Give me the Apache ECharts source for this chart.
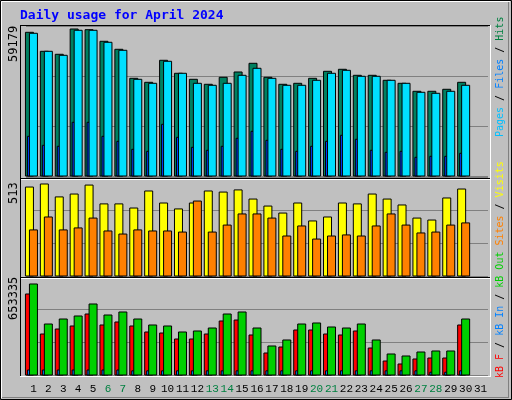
<!DOCTYPE html>
<html><head><meta charset="utf-8">
<script src="https://cdn.jsdelivr.net/npm/echarts@6/dist/echarts.min.js"></script>
<style>html,body{margin:0;padding:0;background:#C0C0C0}#c{width:512px;height:400px}</style>
</head><body><div id="c"></div>
<script>
const days = ['1','2','3','4','5','6','7','8','9','10','11','12','13','14','15','16','17','18','19','20','21','22','23','24','25','26','27','28','29','30','31'];
const weekend = ['6','7','13','14','20','21','27','28'];
const hits  = [57850,50200,49000,59179,58900,54230,51010,39330,37720,46580,41350,38930,36920,39740,41870,45370,39740,36920,37320,39330,42150,42960,40540,40540,38530,37320,34100,34100,34910,37720,0];
const files = [57450,50200,48590,58660,58660,53830,50610,38930,37320,46180,41350,37320,36520,37320,40540,43360,39330,36520,36520,38530,41350,42550,40140,40140,38530,37320,33700,33300,34100,36520,0];
const pages = [15980,12360,11960,21620,21620,15980,13970,10750,9940,20810,15580,11550,10350,11960,15180,18000,14370,10750,9940,11960,13970,16390,14780,10350,9540,9940,7530,7930,7930,9140,0];
const visits = [496,513,441,457,507,402,402,379,474,407,374,407,474,468,480,429,390,351,407,307,329,407,402,457,429,396,323,312,435,485,0];
const sites  = [257,329,257,268,323,251,234,257,251,251,245,418,245,284,346,346,323,223,279,206,223,229,223,279,346,284,240,245,284,296,0];
const kbF   = [581500,294300,330200,351800,437900,359000,380500,351800,308700,301500,258400,258400,294300,387700,394800,287200,157900,201000,323100,323100,294300,287200,315900,193800,100500,79000,114900,122000,122000,359000,0];
const kbIn  = [36000,36000,36000,36000,36000,36000,36000,30000,30000,30000,30000,30000,30000,30000,30000,30000,30000,30000,30000,30000,30000,30000,30000,30000,30000,30000,30000,20000,20000,30000,0];
const kbOut = [653335,366100,402000,423600,509700,430700,452300,402000,359000,351800,308700,315900,337400,437900,452300,337400,208200,251300,366100,373300,344600,337400,366100,251300,150800,136400,165100,172300,172300,402000,0];
const maxLabels = ['59179','513','653335'];

function mk(a,b,c){return days.map((d,i)=>[i,a[i],b[i],c[i]]);}
function bars(spec){
  return function(params, api){
    const x = api.value(0);
    const base = api.coord([x,0]);
    const children = [];
    spec.forEach(s=>{
      const v = api.value(s[0]);
      if(!v) return;
      const top = api.coord([x,v]);
      children.push({type:'rect',shape:{x:base[0]+s[1],y:top[1],width:s[2],height:base[1]-top[1]},
        style:{fill:s[3],stroke:'#000',lineWidth:1}});
    });
    return {type:'group',children};
  };
}
const chart = echarts.init(document.getElementById('c'));
const grids = [{left:26,right:24,top:26,height:150},{left:26,right:24,top:177,height:99},{left:26,right:24,top:276,height:99}];
const ymax = [60387,552,710700];
const xAxis = grids.map((g,i)=>({type:'category',gridIndex:i,data:days,axisLine:{show:false},axisTick:{show:false},
  axisLabel:{show:i===2,interval:0,margin:9,fontFamily:'Liberation Mono',fontSize:11,
    color:(v)=>weekend.includes(v)?'#008040':'#000'}}));
const yAxis = grids.map((g,i)=>({type:'value',gridIndex:i,min:0,max:ymax[i],interval:ymax[i]/3,axisLabel:{show:false},
  axisLine:{show:false},axisTick:{show:false},splitLine:{show:true,lineStyle:{color:'#808080',width:1}}}));
const series = [
  {type:'custom',xAxisIndex:0,yAxisIndex:0,data:mk(hits,files,pages),encode:{x:0,y:[1,2,3]},
   renderItem:bars([[1,-8,8,'#008060'],[3,-6,2.5,'#0040FF'],[2,-4,8,'#00E0FF']])},
  {type:'custom',xAxisIndex:1,yAxisIndex:1,data:mk(visits,sites,sites),encode:{x:0,y:[1,2]},
   renderItem:bars([[1,-8,8,'#FFFF00'],[2,-4,8,'#FF8000']])},
  {type:'custom',xAxisIndex:2,yAxisIndex:2,data:mk(kbF,kbOut,kbIn),encode:{x:0,y:[1,2,3]},
   renderItem:bars([[1,-8,8,'#FF0000'],[3,-6,2.5,'#0080FF'],[2,-4,8,'#00D000']])}
];
const line=(x1,y1,x2,y2,c)=>({type:'line',shape:{x1,y1,x2,y2},style:{stroke:c,lineWidth:1},z:100});
const ylab=(y,t)=>({type:'text',x:14,y,rotation:Math.PI/2,z:100,style:{text:t,fill:'#000',font:'12px "DejaVu Sans Mono"',align:'left',verticalAlign:'middle'}});
const graphic = [
  {type:'rect',shape:{x:0.5,y:0.5,width:511,height:399},style:{fill:'none',stroke:'#000'},z:99},
  line(1.5,1.5,510,1.5,'#fff'),line(1.5,1.5,1.5,398,'#fff'),
  line(508.5,2,508.5,398,'#808080'),line(2,397.5,508.5,397.5,'#808080'),
  line(20,25.5,491,25.5,'#000'),line(20.5,25,20.5,377,'#000'),
  line(490.5,25,490.5,377,'#fff'),line(20,376.5,491,376.5,'#fff'),
  line(21,178.5,490,178.5,'#000'),line(21,179.5,490,179.5,'#fff'),
  line(21,277.5,490,277.5,'#000'),line(21,278.5,490,278.5,'#fff'),
  {type:'text',x:20,y:16,z:100,style:{text:'Daily usage for April 2024',fill:'#0000FF',font:'bold 13px "DejaVu Sans Mono"',verticalAlign:'middle'}},
  ylab(62,maxLabels[0]),ylab(204,maxLabels[1]),ylab(320,maxLabels[2]),
  {type:'text',x:500,y:137,rotation:Math.PI/2,z:100,style:{
    text:'{p|Pages}{s| / }{f|Files}{s| / }{h|Hits}',font:'10px "DejaVu Sans Mono"',align:'left',verticalAlign:'middle',
    rich:{p:{fill:'#00C0FF',font:'10px "DejaVu Sans Mono"'},f:{fill:'#0080FF',font:'10px "DejaVu Sans Mono"'},h:{fill:'#008040',font:'10px "DejaVu Sans Mono"'},s:{fill:'#000',font:'10px "DejaVu Sans Mono"'}}}},
  {type:'text',x:500,y:378,rotation:Math.PI/2,z:100,style:{
    text:'{r|kB F}{s| / }{b|kB In}{s| / }{g|kB Out} {o|Sites}{s| / }{y|Visits}',font:'10px "DejaVu Sans Mono"',align:'left',verticalAlign:'middle',
    rich:{r:{fill:'#FF0000',font:'10px "DejaVu Sans Mono"'},b:{fill:'#0080FF',font:'10px "DejaVu Sans Mono"'},g:{fill:'#00D000',font:'10px "DejaVu Sans Mono"'},
      o:{fill:'#FF8000',font:'10px "DejaVu Sans Mono"'},y:{fill:'#FFFF00',font:'10px "DejaVu Sans Mono"'},s:{fill:'#000',font:'10px "DejaVu Sans Mono"'}}}}
];
chart.setOption({backgroundColor:'#C0C0C0',animation:false,grid:grids,xAxis,yAxis,series,graphic});
</script></body></html>
